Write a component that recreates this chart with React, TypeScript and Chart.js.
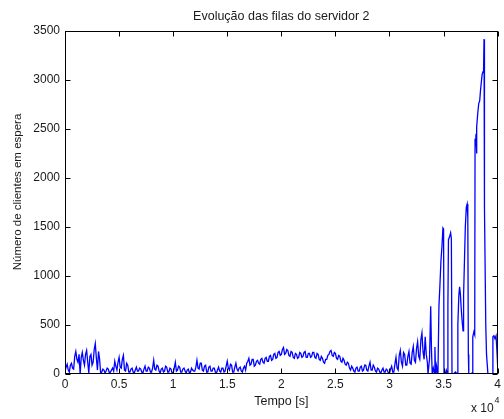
import { useEffect, useRef } from "react";
import { Chart, registerables } from "chart.js";

Chart.register(...registerables);

const TITLE = "Evolução das filas do servidor 2";
const X_LABEL = "Tempo [s]";
const Y_LABEL = "Número de clientes em espera";
const X_EXPONENT = "4";

const X_TICKS = [0, 5000, 10000, 15000, 20000, 25000, 30000, 35000, 40000];
const Y_TICKS = [0, 500, 1000, 1500, 2000, 2500, 3000, 3500];

// steady phase: one sample every 100 s from t = 0 to t = 33000 s
const STEADY_SAMPLE_S = 100;
const steadyQueue = [
  30, 70, 100, 40, 20, 90, 110, 60, 50, 180, 230, 150, 120, 200, 0, 170, 220, 140, 90, 200,
  240, 120, 10, 180, 200, 90, 120, 250, 310, 160, 40, 230, 150, 0, 20, 50, 40, 10, 30, 60,
  50, 10, 20, 40, 60, 30, 130, 80, 40, 120, 170, 70, 60, 150, 190, 40, 30, 110, 90, 20,
  20, 50, 60, 20, 10, 40, 70, 30, 30, 60, 50, 20, 10, 50, 80, 30, 30, 70, 60, 20,
  20, 60, 140, 50, 40, 90, 80, 30, 10, 50, 60, 20, 30, 80, 70, 20, 20, 60, 50, 10,
  10, 60, 120, 30, 40, 80, 70, 20, 20, 50, 60, 30, 10, 40, 50, 10, 20, 60, 40, 30,
  30, 70, 140, 60, 50, 110, 110, 40, 30, 80, 90, 20, 20, 70, 80, 30, 30, 60, 60, 20,
  10, 40, 70, 30, 20, 60, 60, 20, 30, 80, 130, 60, 40, 100, 90, 20, 20, 70, 110, 50,
  30, 60, 70, 30, 20, 60, 80, 40, 110, 130, 160, 90, 100, 150, 150, 80, 90, 130, 140, 110,
  100, 150, 160, 120, 110, 160, 170, 130, 130, 180, 190, 140, 150, 200, 210, 160, 170, 220, 230, 190,
  200, 250, 270, 200, 210, 250, 240, 190, 180, 230, 220, 170, 160, 210, 200, 160, 170, 220, 210, 170,
  180, 220, 230, 170, 170, 210, 210, 170, 180, 220, 220, 170, 160, 210, 200, 150, 140, 180, 160, 120,
  110, 150, 150, 190, 200, 230, 240, 190, 180, 220, 210, 160, 150, 190, 180, 130, 120, 160, 140, 100,
  90, 120, 110, 60, 40, 80, 60, 30, 20, 60, 70, 30, 30, 70, 80, 30, 40, 90, 90, 40,
  30, 80, 120, 40, 40, 90, 70, 30, 20, 60, 50, 20, 10, 40, 60, 20, 20, 50, 40, 10,
  10, 50, 80, 20, 20, 100, 170, 60, 40, 190, 240, 120, 80, 220, 200, 90, 90, 180, 230, 110,
  100, 220, 280, 140, 120, 260, 330, 180, 150, 350, 420,
];

// burst phase, irregular samples
const burstTimes = [
  33100, 33200, 33300, 33400, 33500, 33560, 33700, 33810, 33880, 33950,
  34050, 34150, 34200, 34260, 34350, 34420, 34480, 34570, 34660, 34760,
  34850, 34940, 35000, 35040, 35150, 35250, 35360, 35400, 35450, 35550,
  35650, 35720, 35780, 35900, 36100, 36250, 36320, 36410, 36480, 36550,
  36640, 36730, 36800, 36850, 36940, 37010, 37100, 37180, 37240, 37290,
  37330, 37500, 37650, 37700, 37800, 37880, 37910, 37950, 38000, 38040,
  38080, 38160, 38250, 38340, 38420, 38500, 38570, 38650, 38700, 38740,
  38780, 38900, 38970, 39100, 39480, 39560, 39650, 39750, 39850, 39950,
  40000,
];
const burstQueue = [
  230, 150, 380, 200, 120, 0, 150, 690, 250, 0,
  60, 10, 275, 0, 80, 10, 0, 690, 900, 1160,
  1300, 1490, 1480, 0, 0, 40, 0, 700, 1370, 1400,
  1440, 1380, 0, 0, 20, 0, 500, 800, 890, 820,
  650, 520, 440, 800, 1200, 1500, 1700, 1734, 1600, 200,
  0, 0, 10, 380, 430, 400, 2400, 2330, 2450, 2250,
  2520, 2660, 2760, 2790, 2900, 2990, 3060, 3084, 3120, 3417,
  1700, 500, 200, 0, 0, 380, 390, 360, 390, 200,
  80,
];

const FONT = "'Liberation Sans', Arial, Helvetica, sans-serif";
const TEXT = "#1a1a1a";

const decorPlugin = {
  id: "matlabDecor",
  afterDraw(chart: any) {
    const { ctx, chartArea } = chart;
    const xs = chart.scales.x;
    const ys = chart.scales.y;
    const L = Math.round(chartArea.left) + 0.5;
    const R = Math.round(chartArea.right) - 0.5;
    const T = Math.round(chartArea.top) + 0.5;
    const B = Math.round(chartArea.bottom) - 0.5;
    ctx.save();
    ctx.strokeStyle = "#000";
    ctx.lineWidth = 1;
    ctx.strokeRect(L, T, R - L, B - T);
    ctx.beginPath();
    const tl = 5;
    X_TICKS.forEach((v) => {
      const px = Math.round(xs.getPixelForValue(v)) + 0.5;
      ctx.moveTo(px, B);
      ctx.lineTo(px, B - tl);
      ctx.moveTo(px, T);
      ctx.lineTo(px, T + tl);
    });
    Y_TICKS.forEach((v) => {
      const py = Math.round(ys.getPixelForValue(v)) + 0.5;
      ctx.moveTo(L, py);
      ctx.lineTo(L + tl, py);
      ctx.moveTo(R, py);
      ctx.lineTo(R - tl, py);
    });
    ctx.stroke();

    ctx.fillStyle = TEXT;
    ctx.textAlign = "center";
    ctx.textBaseline = "middle";
    ctx.font = `12.5px ${FONT}`;
    ctx.fillText(TITLE, (chartArea.left + chartArea.right) / 2, 17);
    ctx.fillText(X_LABEL, (chartArea.left + chartArea.right) / 2, 402);

    ctx.save();
    ctx.translate(18, 192);
    ctx.rotate(-Math.PI / 2);
    ctx.font = `11.5px ${FONT}`;
    ctx.fillText(Y_LABEL, 0, 0);
    ctx.restore();

    ctx.textAlign = "left";
    ctx.textBaseline = "alphabetic";
    ctx.font = `12px ${FONT}`;
    ctx.fillText("x 10", 471, 412);
    ctx.font = `9px ${FONT}`;
    ctx.fillText(X_EXPONENT, 494.5, 403);
    ctx.restore();
  },
};

export default function App() {
  const ref = useRef<HTMLCanvasElement | null>(null);
  useEffect(() => {
    if (!ref.current) return;
    const steadyPoints = steadyQueue.map((q, i) => ({ x: i * STEADY_SAMPLE_S, y: q }));
    const burstPoints = burstTimes.map((t, i) => ({ x: t, y: burstQueue[i] }));
    const points = steadyPoints.concat(burstPoints);
    const chart = new Chart(ref.current, {
      type: "line",
      data: {
        datasets: [
          {
            data: points,
            borderColor: "#0000ff",
            borderWidth: 1.3,
            pointRadius: 0,
            tension: 0,
            fill: false,
          },
        ],
      },
      options: {
        responsive: false,
        animation: false,
        events: [],
        layout: { padding: { top: 31, right: 4, left: 0, bottom: 0 } },
        plugins: { legend: { display: false }, tooltip: { enabled: false }, title: { display: false } },
        scales: {
          x: {
            type: "linear",
            min: 0,
            max: 40000,
            afterBuildTicks: (s: any) => {
              s.ticks = X_TICKS.map((v) => ({ value: v }));
            },
            afterFit: (s: any) => {
              s.height = 45;
            },
            ticks: {
              autoSkip: false,
              maxRotation: 0,
              padding: 3,
              color: TEXT,
              font: { family: FONT, size: 12 },
              callback: (v: any) => String(Number(v) / 10000),
            },
            grid: { display: false, drawTicks: false },
            border: { display: false },
          },
          y: {
            min: 0,
            max: 3500,
            afterBuildTicks: (s: any) => {
              s.ticks = Y_TICKS.map((v) => ({ value: v }));
            },
            afterFit: (s: any) => {
              s.width = 65;
            },
            ticks: {
              autoSkip: false,
              padding: 5,
              color: TEXT,
              font: { family: FONT, size: 12 },
              callback: (v: any) => String(v),
            },
            grid: { display: false, drawTicks: false },
            border: { display: false },
          },
        },
      },
      plugins: [decorPlugin],
    });
    return () => chart.destroy();
  }, []);
  return (
    <div style={{ position: "absolute", left: 0, top: 0, width: 504, height: 419, background: "#fff" }}>
      <canvas ref={ref} width={504} height={419} style={{ display: "block" }} />
    </div>
  );
}
